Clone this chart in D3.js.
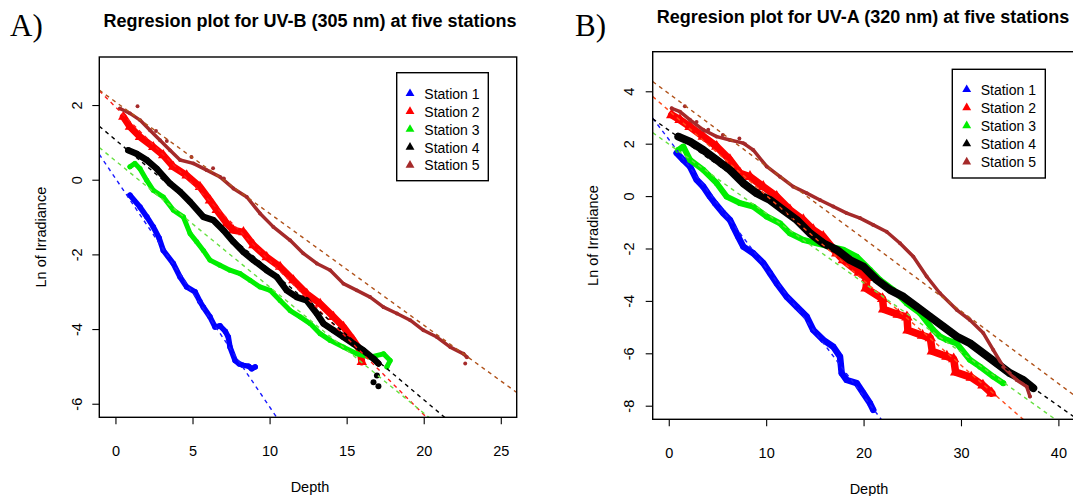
<!DOCTYPE html>
<html>
<head>
<meta charset="utf-8">
<script src="https://cdn.jsdelivr.net/npm/d3@7"></script>
<style>
  html, body { margin: 0; padding: 0; background: #fff; }
  svg { display: block; font-family: "Liberation Sans", Arial, sans-serif; }
</style>
</head>
<body>
<svg id="chart" width="1073" height="496"></svg>
<script>
// ---------------- DATA ----------------
const stationNames = ["Station 1", "Station 2", "Station 3", "Station 4", "Station 5"];
const stationColors = ["#0000ff", "#ff0000", "#00ee00", "#000000", "#a52a2a"];

// Panel A: UV-B (305 nm) — [depth, ln irradiance]
const uvbStation1 = [[0.91,-0.40],[1.56,-0.72],[2.0,-0.98],[2.42,-1.25],[2.8,-1.55],[3.07,-1.88],[3.72,-2.23],[4.16,-2.59],[4.59,-2.86],[5.13,-2.99],[5.45,-3.25],[5.67,-3.40],[6.1,-3.66],[6.43,-3.93],[6.75,-3.90],[7.1,-4.05],[7.29,-4.2],[7.4,-4.47],[7.73,-4.83],[8.0,-4.92],[8.27,-4.96],[8.6,-4.98],[8.81,-5.05],[9.03,-5.0]];
const uvbStation2 = [[0.48,1.70],[0.91,1.43],[1.56,1.16],[2.42,0.89],[3.07,0.67],[3.72,0.36],[4.59,0.13],[5.45,-0.18],[6.10,-0.54],[6.54,-0.80],[7.19,-1.16],[7.62,-1.34],[8.27,-1.39],[8.92,-1.74],[9.78,-2.06],[10.65,-2.32],[11.51,-2.68],[12.38,-3.04],[13.25,-3.31],[14.11,-3.66],[14.76,-3.93],[15.41,-4.29],[15.84,-4.56],[15.95,-4.87]];
const uvbStation3 = [[0.91,0.36],[1.23,0.45],[1.56,0.31],[1.99,0.0],[2.42,-0.27],[3.07,-0.45],[3.72,-0.80],[4.37,-0.98],[4.81,-1.43],[5.24,-1.65],[5.67,-1.88],[6.10,-2.14],[6.75,-2.28],[7.40,-2.41],[8.05,-2.50],[8.70,-2.68],[9.35,-2.86],[10.0,-2.95],[10.65,-3.22],[11.30,-3.49],[11.95,-3.66],[12.60,-3.84],[13.25,-4.11],[13.90,-4.29],[14.76,-4.47],[15.63,-4.65],[16.49,-4.74],[17.36,-4.65],[17.79,-4.83],[17.58,-5.0]];
const uvbStation4 = [[0.8,0.80],[1.34,0.71],[1.99,0.54],[2.64,0.31],[3.51,-0.09],[4.16,-0.31],[4.81,-0.58],[5.67,-0.98],[6.32,-1.07],[6.97,-1.34],[7.62,-1.65],[8.27,-1.92],[8.92,-2.14],[9.78,-2.41],[10.43,-2.59],[11.08,-2.95],[11.73,-3.13],[12.38,-3.22],[13.03,-3.57],[13.46,-3.84],[14.11,-4.02],[14.76,-4.20],[15.41,-4.38],[16.06,-4.56],[16.71,-4.78],[17.03,-4.91]];
const uvbStation4Outliers = [[16.93,-5.23],[16.71,-5.41],[17.03,-5.52]];
const uvbStation5 = [[0.26,1.92],[0.91,1.79],[1.56,1.61],[2.21,1.34],[2.86,1.07],[3.51,0.80],[4.16,0.54],[5.02,0.45],[5.89,0.27],[6.75,0.09],[7.62,-0.22],[8.49,-0.45],[9.35,-0.89],[10.21,-1.25],[11.30,-1.61],[12.16,-1.96],[13.03,-2.23],[13.90,-2.41],[14.76,-2.77],[15.63,-2.95],[16.49,-3.13],[17.36,-3.40],[18.23,-3.57],[19.09,-3.75],[19.95,-4.02],[20.82,-4.20],[21.69,-4.47],[22.55,-4.65],[22.77,-4.74]];
const uvbStation5Scatter = [[1.4,1.98],[2.6,1.32],[3.3,1.05],[4.9,0.62],[6.3,0.32],[7.0,0.05],[22.66,-4.91]];
const uvbIntercepts = [0.03, 1.95, 0.51, 1.07, 2.09];
const uvbSlopes = [-0.612, -0.412, -0.338, -0.348, -0.299];

// Panel B: UV-A (320 nm)
const uvaStation1 = [[0.76,1.66],[1.44,1.40],[2.13,1.15],[2.81,0.64],[3.49,0.38],[4.18,0.0],[4.69,-0.25],[5.54,-0.63],[6.23,-0.89],[6.57,-1.15],[7.08,-1.53],[7.60,-1.91],[8.62,-2.16],[9.65,-2.54],[10.34,-2.92],[11.03,-3.31],[12.05,-3.82],[13.08,-4.20],[14.11,-4.58],[14.78,-5.09],[15.81,-5.47],[16.84,-5.73],[17.53,-6.11],[17.70,-6.74],[18.21,-7.0],[19.24,-7.12],[19.92,-7.50],[20.61,-7.89],[20.94,-8.14]];
const uvaStation2 = [[0.25,3.12],[1.10,2.93],[2.13,2.67],[3.49,2.29],[4.87,1.91],[6.23,1.40],[7.26,0.89],[8.29,0.76],[9.65,0.38],[11.03,0.0],[12.39,-0.51],[13.76,-0.89],[14.78,-1.27],[15.81,-1.53],[17.19,-2.16],[17.87,-2.42],[19.5,-2.9],[20.3,-3.1],[20.2,-3.5],[21.9,-3.9],[22.0,-4.3],[23.5,-4.5],[24.4,-4.6],[24.5,-5.1],[26.0,-5.3],[26.8,-5.4],[27.0,-5.9],[28.5,-6.1],[29.2,-6.2],[29.4,-6.7],[31.0,-6.9],[32.2,-7.2],[33.1,-7.5]];
const uvaStation3 = [[0.93,1.78],[1.44,1.91],[2.13,1.40],[3.49,1.02],[4.87,0.51],[5.89,0.0],[7.26,-0.25],[8.62,-0.38],[10.0,-0.76],[11.37,-1.02],[12.39,-1.40],[13.76,-1.65],[15.13,-1.78],[16.50,-1.91],[17.87,-2.03],[19.24,-2.29],[20.61,-2.80],[21.63,-3.18],[23.0,-3.56],[24.37,-4.07],[25.74,-4.45],[27.10,-5.09],[27.79,-5.34],[28.48,-5.47],[29.51,-5.60],[30.87,-6.23],[31.90,-6.49],[33.26,-6.87],[34.29,-7.12]];
const uvaStation4 = [[0.93,2.29],[2.13,2.10],[3.49,1.78],[4.87,1.40],[6.23,1.02],[7.60,0.51],[8.97,0.13],[10.34,-0.13],[11.70,-0.51],[13.08,-0.89],[14.45,-1.40],[15.81,-1.78],[17.19,-2.03],[18.55,-2.42],[19.92,-2.67],[21.29,-3.18],[22.66,-3.56],[24.02,-3.82],[25.40,-4.20],[26.77,-4.58],[28.13,-4.96],[29.51,-5.34],[30.87,-5.60],[32.24,-5.98],[33.61,-6.36],[34.98,-6.74],[36.35,-7.00],[37.37,-7.31]];
const uvaStation5 = [[0.25,3.37],[1.10,3.24],[2.13,2.93],[3.49,2.55],[4.87,2.29],[6.23,2.16],[7.60,2.04],[8.62,1.78],[10.0,1.15],[11.37,0.76],[12.73,0.38],[14.11,0.13],[15.47,-0.13],[16.84,-0.38],[18.21,-0.63],[19.58,-0.82],[20.94,-1.08],[22.32,-1.34],[23.69,-1.78],[25.05,-2.29],[26.43,-3.05],[27.79,-3.69],[29.51,-4.32],[30.87,-4.71],[32.24,-5.21],[33.26,-5.85],[34.29,-6.49],[35.67,-7.0],[36.69,-7.25],[37.03,-7.63]];
const uvaStation5Scatter = [[1.6,3.45],[2.8,2.85],[4.0,2.55],[5.5,2.35],[7.2,2.22],[7.8,2.0]];
const uvaIntercepts = [2.16, 3.27, 1.99, 2.52, 3.92];
const uvaSlopes = [-0.490, -0.324, -0.2647, -0.263, -0.2767];

const uvbXTicks = [0, 5, 10, 15, 20, 25];
const uvbYTicks = [-6, -4, -2, 0, 2];
const uvaXTicks = [0, 10, 20, 30, 40];
const uvaYTicks = [-8, -6, -4, -2, 0, 2, 4];

// ---------------- DRAW ----------------
const svg = d3.select("#chart");
const regColorsA = ["#1a1aff", "#ff1a1a", "#66e040", "#000000", "#b0521a"];
const regColorsB = ["#1a1aff", "#ff4a1a", "#66e040", "#000000", "#b0521a"];
const FS = 14.5;

function panel(cfg) {
  const x = d3.scaleLinear().domain(cfg.xDomain).range([cfg.left, cfg.right]);
  const y = d3.scaleLinear().domain(cfg.yDomain).range([cfg.bottom, cfg.top]);
  const g = svg.append("g");
  const clipId = "clip" + cfg.id;
  svg.append("clipPath").attr("id", clipId).append("rect")
    .attr("x", cfg.left).attr("y", cfg.top)
    .attr("width", cfg.right - cfg.left).attr("height", cfg.bottom - cfg.top);
  const plot = g.append("g").attr("clip-path", `url(#${clipId})`);

  const line = d3.line().x(d => x(d[0])).y(d => y(d[1]));
  cfg.series.forEach((s, i) => {
    const col = stationColors[i];
    plot.append("path").datum(s).attr("d", line)
      .attr("fill", "none").attr("stroke", col)
      .attr("stroke-width", cfg.widths[i])
      .attr("stroke-linejoin", "round").attr("stroke-linecap", "round");
    const sym = i === 1 ? d3.symbolTriangle : d3.symbolCircle;
    const size = i === 1 ? cfg.triSize : cfg.dotSize[i];
    plot.selectAll(null).data(s.concat(cfg.extras[i] || [])).enter().append("path")
      .attr("d", d3.symbol().type(sym).size(size))
      .attr("transform", d => `translate(${x(d[0])},${y(d[1])})`)
      .attr("fill", col);
  });

  // regression lines
  cfg.intercepts.forEach((b, i) => {
    const m = cfg.slopes[i];
    const [x0, x1] = cfg.xDomain;
    plot.append("line")
      .attr("x1", x(x0)).attr("y1", y(b + m * x0))
      .attr("x2", x(x1)).attr("y2", y(b + m * x1))
      .attr("stroke", cfg.regColors[i]).attr("stroke-width", 1.4)
      .attr("stroke-dasharray", "4,4");
  });

  // box
  g.append("rect").attr("x", cfg.left).attr("y", cfg.top)
    .attr("width", cfg.right - cfg.left).attr("height", cfg.bottom - cfg.top)
    .attr("fill", "none").attr("stroke", "#000").attr("stroke-width", 1.4);

  // x axis
  const xa = g.append("g");
  cfg.xTicks.forEach(t => {
    xa.append("line").attr("x1", x(t)).attr("x2", x(t))
      .attr("y1", cfg.bottom).attr("y2", cfg.bottom + 7)
      .attr("stroke", "#000").attr("stroke-width", 1.1);
    xa.append("text").attr("x", x(t)).attr("y", cfg.bottom + 39)
      .attr("text-anchor", "middle").attr("font-size", FS).text(t);
  });
  // y axis
  const ya = g.append("g");
  cfg.yTicks.forEach(t => {
    ya.append("line").attr("x1", cfg.left - 7).attr("x2", cfg.left)
      .attr("y1", y(t)).attr("y2", y(t))
      .attr("stroke", "#000").attr("stroke-width", 1.1);
    ya.append("text")
      .attr("transform", `translate(${cfg.yLabX},${y(t)}) rotate(-90)`)
      .attr("dy", "0.35em").attr("text-anchor", "middle")
      .attr("font-size", FS).text(t);
  });

  // titles
  g.append("text").attr("x", cfg.titleX).attr("y", cfg.titleY)
    .attr("text-anchor", "middle").attr("font-size", 18).attr("font-weight", "bold")
    .text(cfg.title);
  g.append("text").attr("x", cfg.xTitleX).attr("y", cfg.xTitleY)
    .attr("text-anchor", "middle").attr("font-size", FS).text("Depth");
  g.append("text")
    .attr("transform", `translate(${cfg.yTitleX},${(cfg.top + cfg.bottom) / 2}) rotate(-90)`)
    .attr("dy", "0.35em").attr("text-anchor", "middle").attr("font-size", FS)
    .text("Ln of Irradiance");
  g.append("text").attr("x", cfg.tagX).attr("y", 36)
    .attr("font-family", "'Liberation Serif', 'Times New Roman', serif")
    .attr("font-size", 31).text(cfg.tag);

  // legend
  const L = cfg.legend;
  const lg = g.append("g");
  lg.append("rect").attr("x", L.x0).attr("y", L.y0)
    .attr("width", L.x1 - L.x0).attr("height", L.y1 - L.y0)
    .attr("fill", "#fff").attr("stroke", "#000").attr("stroke-width", 1.4);
  stationNames.forEach((n, i) => {
    const yy = L.first + L.step * i;
    lg.append("path").attr("d", d3.symbol().type(d3.symbolTriangle).size(34))
      .attr("transform", `translate(${L.sym},${yy})`).attr("fill", stationColors[i]);
    lg.append("text").attr("x", L.text).attr("y", yy).attr("dy", "0.38em")
      .attr("font-size", 14).text(n);
  });
}

panel({
  id: "A", tag: "A)", tagX: 10,
  title: "Regresion plot for UV-B (305 nm) at five stations", titleX: 310, titleY: 27,
  left: 99.3, right: 516.7, top: 57, bottom: 417.3,
  xDomain: [-1.08, 26.0], yDomain: [-6.35, 3.3],
  xTicks: uvbXTicks, yTicks: uvbYTicks,
  yLabX: 77, yTitleX: 41, xTitleX: 310, xTitleY: 492,
  series: [uvbStation1, uvbStation2, uvbStation3, uvbStation4, uvbStation5],
  extras: [[], [], [], uvbStation4Outliers, uvbStation5Scatter],
  widths: [5.5, 7, 5, 6.5, 3.5], dotSize: [24, 0, 20, 28, 12], triSize: 48,
  intercepts: uvbIntercepts, slopes: uvbSlopes, regColors: regColorsA,
  legend: { x0: 396.7, x1: 488.3, y0: 72.7, y1: 180.7, first: 93.5, step: 17.9, sym: 410, text: 424.3 }
});

panel({
  id: "B", tag: "B)", tagX: 575,
  title: "Regresion plot for UV-A (320 nm) at five stations", titleX: 863, titleY: 23,
  left: 652.7, right: 1099.8, top: 51.7, bottom: 419.3,
  xDomain: [-1.7, 44.2], yDomain: [-8.5, 5.53],
  xTicks: uvaXTicks, yTicks: uvaYTicks,
  yLabX: 629, yTitleX: 593, xTitleX: 869, xTitleY: 494,
  series: [uvaStation1, uvaStation2, uvaStation3, uvaStation4, uvaStation5],
  extras: [[], [], [], [], uvaStation5Scatter],
  widths: [6.5, 7.5, 6, 8, 3.5], dotSize: [28, 0, 26, 36, 12], triSize: 56,
  intercepts: uvaIntercepts, slopes: uvaSlopes, regColors: regColorsB,
  legend: { x0: 952.3, x1: 1045.3, y0: 69.3, y1: 178, first: 89.5, step: 18.1, sym: 966.7, text: 980.7 }
});
</script>
</body>
</html>
